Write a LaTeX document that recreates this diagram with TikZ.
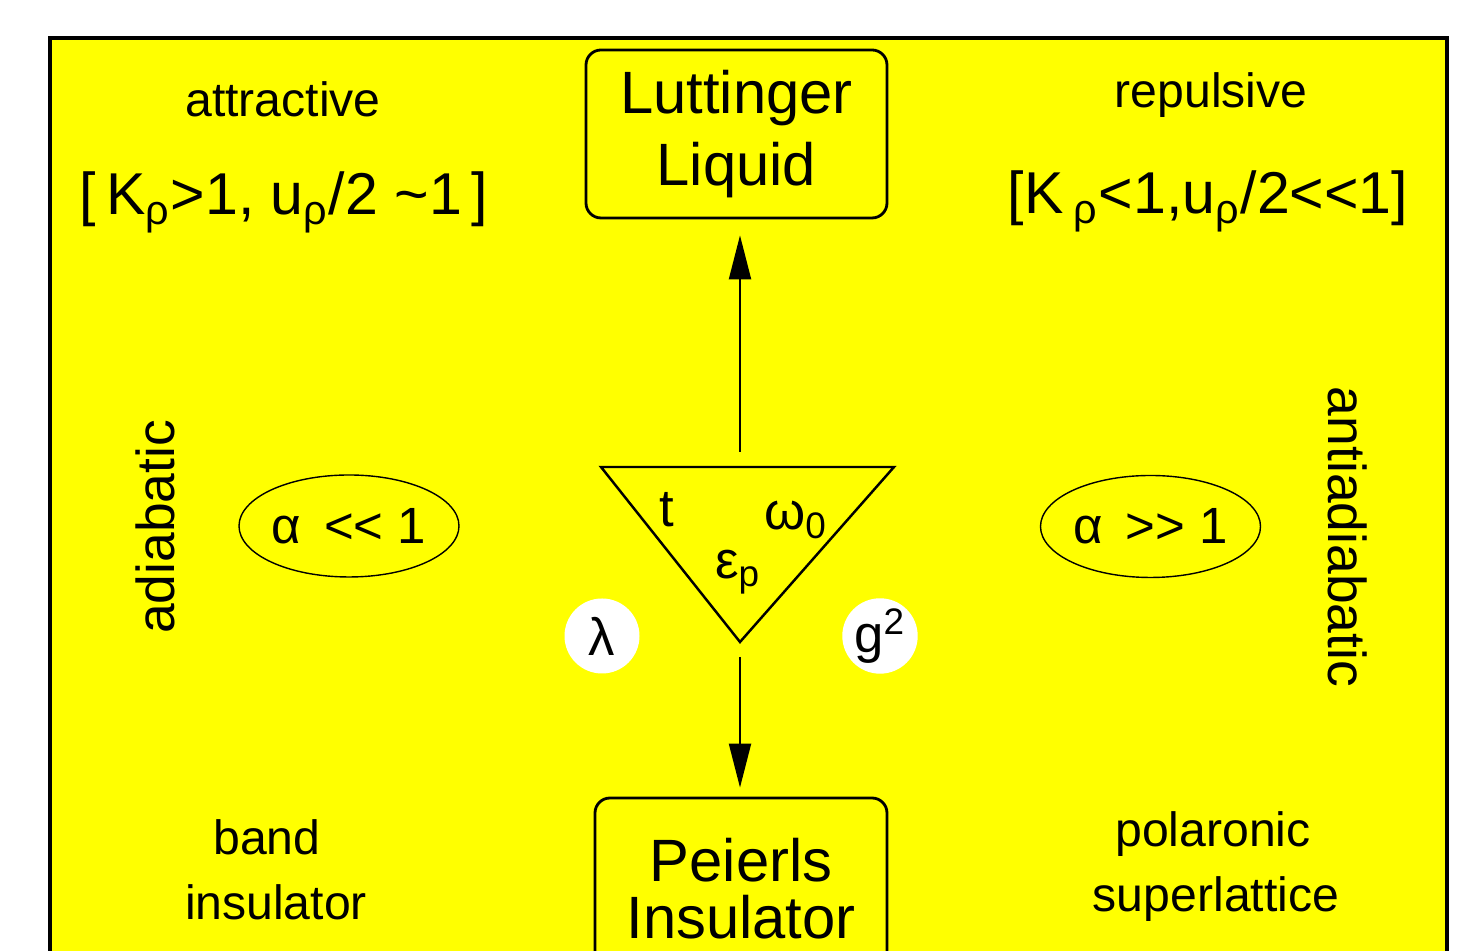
\documentclass[tikz,border=0pt]{standalone}
\usepackage{fontspec}
\setmainfont{Liberation Sans}
\usetikzlibrary{arrows.meta,positioning,shapes.geometric}
\definecolor{panelyellow}{RGB}{255,255,0}

\begin{document}
\begin{tikzpicture}[
  phasebox/.style={draw, line width=0.8pt, rounded corners=0.15cm, align=center, inner sep=0pt, fill=panelyellow},
  limitoval/.style={draw, ellipse, line width=0.4pt, minimum width=2.2cm, minimum height=1.02cm, inner sep=0pt, font=\fontsize{14.5}{17}\selectfont},
  coupling/.style={circle, fill=white, minimum size=0.75cm, inner sep=0pt, font=\fontsize{15}{18}\selectfont},
  labeltext/.style={font=\fontsize{13.7}{16}\selectfont, anchor=base},
  rangetext/.style={font=\fontsize{16.8}{20}\selectfont, anchor=base},
  sidetext/.style={font=\fontsize{15.2}{18}\selectfont},
  paramtext/.style={font=\fontsize{15}{18}\selectfont},
  arrow/.style={-{Triangle[length=0.44cm,width=0.22cm]}, line width=0.6pt}
]
\useasboundingbox (0,0) rectangle (14.6,-9.51);
\clip (0,0) rectangle (14.6,-9.51);

% background panel
\draw[fill=panelyellow, line width=0.9pt] (0.50,-0.38) rectangle (14.47,-10.5);

% phases
\node[phasebox, minimum width=3.01cm, minimum height=1.68cm, font=\fontsize{17}{20.7}\selectfont] (luttinger) at (7.365,-1.34) {Luttinger\\Liquid};
\node[phasebox, minimum width=2.92cm, minimum height=1.82cm, font=\fontsize{17}{16.2}\selectfont] (peierls) at (7.41,-8.89) {Peierls\\Insulator};

% interaction regimes
\node[labeltext] (attract) at (2.83,-1.17) {attractive};
\node[rangetext] (attractrange) at (2.84,-2.15) {[\,K\textsubscript{ρ}{>}1, u\textsubscript{ρ}/2 \textasciitilde1\,]};
\node[labeltext] (repulse) at (12.11,-1.08) {repulsive};
\node[rangetext] (repulserange) at (12.08,-2.14) {[K\,\textsubscript{ρ}{<}1,u\textsubscript{ρ}/2{<}{<}1]};

% adiabaticity
\node[sidetext, rotate=90] (adiab) at (1.55,-5.27) {adiabatic};
\node[sidetext, rotate=-90] (antiadiab) at (13.48,-5.37) {antiadiabatic};
\node[limitoval] (smallalpha) at (3.49,-5.26) {α\, {<}{<} 1};
\node[limitoval] (largealpha) at (11.505,-5.265) {α\, {>}{>} 1};

% low-energy states
\node[labeltext] (band) at (2.67,-8.55) {band};
\node[labeltext] (bandins) at (2.76,-9.20) {insulator};
\node[labeltext] (polaronic) at (12.13,-8.47) {polaronic};
\node[labeltext] (superlat) at (12.16,-9.12) {superlattice};

% parameter triangle
\coordinate (trileft) at (6.01,-4.67);
\coordinate (triright) at (8.94,-4.67);
\coordinate (tritop) at (7.40,-4.67);
\coordinate (tribottom) at (7.40,-6.42);
\draw[line width=0.7pt] (trileft) -- (triright) -- (tribottom) -- cycle;
\node[paramtext] (hop) at (6.67,-5.10) {t};
\node[paramtext] (phonon) at (7.96,-5.20) {ω\textsubscript{0}};
\node[paramtext] (polaron) at (7.38,-5.72) {ε\textsubscript{p}};
\node[coupling] (lambda) at (6.02,-6.36) {λ};
\node[coupling] (gsq) at (8.80,-6.36) {g\textsuperscript{2}};

\draw[arrow, shorten <=0.15cm, shorten >=0.16cm] (tritop) -- (luttinger.south -| tritop);
\draw[arrow, shorten <=0.15cm, shorten >=0.09cm] (tribottom) -- (peierls.north -| tribottom);
\end{tikzpicture}
\end{document}
